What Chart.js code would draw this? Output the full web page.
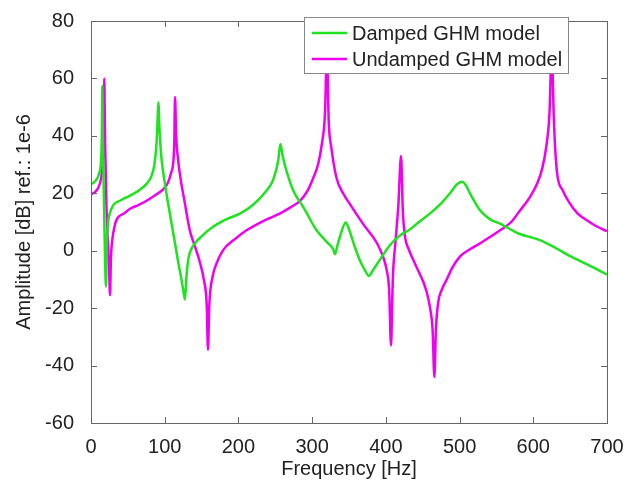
<!DOCTYPE html>
<html>
<head>
<meta charset="utf-8">
<script src="https://cdn.jsdelivr.net/npm/chart.js@4.4.1/dist/chart.umd.min.js"></script>
<style>
  html, body { margin: 0; padding: 0; background: #fff; }
  #wrap { width: 644px; height: 490px; }
</style>
</head>
<body>
<div id="wrap"><canvas id="myChart" width="644" height="490"></canvas></div>
<script>
// values
const dampedFreq = [0, 4, 8, 11, 13.5, 14.8, 15.3, 16, 17.5, 19, 20.3, 21.5, 23, 25, 30, 40, 53, 65, 75, 82, 86, 88.5, 90, 91.3,
  93, 95, 97, 99, 101, 107, 113, 118.5, 122, 125, 127.5, 129.5, 132, 136, 141, 150, 166, 184, 202, 220, 238, 246, 251, 254, 257,
  260, 265, 274.5, 288, 306, 320, 328.6, 331, 334, 339, 345.5, 350, 357, 365, 372, 377, 382, 392, 405.7, 420, 433, 442, 460,
  475, 487, 496, 503, 508, 515, 528, 541, 555, 580, 609, 630, 650, 675, 700];
const dampedAmp = [23.2, 23.8, 25, 27, 31, 42, 57.4, 40, 18, -2, -12.5, 3, 9.5, 12.5, 15.8, 17.5, 19.2, 21, 23.2, 26, 30, 36, 43, 51.7,
  42, 34, 29, 25.5, 22, 12.9, 4, -4.3, -9, -13.5, -17, -9, -3, 0.5, 2.6, 5, 8.4, 11, 12.9, 16, 20.9, 24, 28, 31.5, 37.2,
  33, 28, 20.9, 15.2, 7.1, 3, 0.5, -1.2, 1.5, 6, 9.8, 7.5, 2, -3.5, -7, -8.8, -7, -3.1, 2, 5.5, 7.5, 9.4, 13,
  16.5, 20, 23, 24, 23, 19.5, 14, 11, 9.4, 6, 3.7, 1, -1.9, -5, -8.3];

const undampedFreq = [0, 5, 10, 13.5, 15.5, 17, 18, 19, 20.5, 22.5, 24.5, 25.8, 27, 29, 32, 35, 45, 53, 65, 75.5, 88, 98, 104,
  108.5, 111.7, 113, 114, 115.5, 118, 121, 127, 134, 141, 148, 153, 157, 158.7, 160.5, 165, 171, 179.5, 195, 211, 235, 256,
  270, 283.6, 294, 301.6, 308, 313, 317.5, 320, 322.5, 326, 333, 342, 351, 370, 388, 396, 401, 404.5, 407, 409, 410, 413,
  417, 420.6, 423, 426, 431, 437, 444, 451, 456, 460, 463.5, 465.8, 468, 471, 476, 482.6, 490, 500.7, 514, 528, 555, 570,
  582, 595, 605, 612, 618, 622, 625, 628, 632, 640, 650, 660, 672.6, 685, 700];
const undampedAmp = [19.7, 20.3, 22, 25, 30, 40, 60, 40, 20, 5, -6, -15.5, -3, 4, 8.5, 11, 13, 14.6, 16, 17.4, 19.5, 21.4, 23.5,
  27, 31, 38, 53.5, 40, 32, 26, 17, 7.1, 1.5, -4.3, -10, -19, -34.5, -19, -9, -4, 0.3, 4, 7.1, 10.5, 12.9,
  15, 17.4, 21, 25.4, 30, 36.9, 48.3, 70, 45, 36, 25.4, 20, 16.3, 9, 2.6, -2, -6.6, -14, -33, -14, -6.6, 3,
  16, 33, 14, 4.9, 0.5, -3.1, -7, -11, -15, -20, -28, -44, -27, -18, -13.5, -10, -6, -2, 0.5, 2.6, 7.1, 10,
  14, 18.5, 23.2, 28.5, 36.9, 48, 70, 45, 27.7, 21, 16.3, 13, 10.6, 8.6, 6.8];

const xTicks = [0, 100, 200, 300, 400, 500, 600, 700];
const yTicks = [-60, -40, -20, 0, 20, 40, 60, 80];
const seriesNames = ['Damped GHM model', 'Undamped GHM model'];
const seriesColors = ['#1ee31e', '#f000f0'];

const FONT = 'Liberation Sans, Arial, sans-serif';

const toPoints = (xs, ys) => xs.map((x, i) => ({ x: x, y: ys[i] }));

// MATLAB style frame with inward ticks
const framePlugin = {
  id: 'frame',
  afterDraw(chart) {
    const { ctx, chartArea: a, scales } = chart;
    const len = 6;
    ctx.save();
    ctx.strokeStyle = '#666';
    ctx.lineWidth = 1;
    ctx.strokeRect(a.left + 0.5, a.top + 0.5, a.right - a.left, a.bottom - a.top);
    ctx.beginPath();
    xTicks.forEach(v => {
      const px = Math.round(scales.x.getPixelForValue(v)) + 0.5;
      ctx.moveTo(px, a.bottom); ctx.lineTo(px, a.bottom - len);
      ctx.moveTo(px, a.top); ctx.lineTo(px, a.top + len);
    });
    yTicks.forEach(v => {
      const py = Math.round(scales.y.getPixelForValue(v)) + 0.5;
      ctx.moveTo(a.left, py); ctx.lineTo(a.left + len, py);
      ctx.moveTo(a.right, py); ctx.lineTo(a.right - len, py);
    });
    ctx.stroke();
    ctx.restore();
  }
};

// boxed legend inside the plot, top right
const boxLegendPlugin = {
  id: 'boxLegend',
  afterDraw(chart) {
    const ctx = chart.ctx;
    const x0 = 304, y0 = 17, w = 264, h = 56;
    ctx.save();
    ctx.fillStyle = '#fff';
    ctx.fillRect(x0, y0, w, h);
    ctx.strokeStyle = '#888';
    ctx.lineWidth = 1;
    ctx.strokeRect(x0 + 0.5, y0 + 0.5, w, h);
    ctx.font = '20px ' + FONT;
    ctx.textBaseline = 'middle';
    seriesNames.forEach((name, i) => {
      const cy = y0 + 16 + i * 26;
      ctx.strokeStyle = seriesColors[i];
      ctx.lineWidth = 2.5;
      ctx.beginPath();
      ctx.moveTo(x0 + 8, cy);
      ctx.lineTo(x0 + 43, cy);
      ctx.stroke();
      ctx.fillStyle = '#222';
      ctx.fillText(name, x0 + 48, cy + 1);
    });
    ctx.restore();
  }
};

const ctx = document.getElementById('myChart').getContext('2d');
new Chart(ctx, {
  type: 'line',
  data: {
    datasets: [
      {
        label: seriesNames[0],
        data: toPoints(dampedFreq, dampedAmp),
        borderColor: seriesColors[0],
        borderWidth: 2.5,
        pointRadius: 0,
        cubicInterpolationMode: 'monotone',
        fill: false
      },
      {
        label: seriesNames[1],
        data: toPoints(undampedFreq, undampedAmp),
        borderColor: seriesColors[1],
        borderWidth: 2.5,
        pointRadius: 0,
        cubicInterpolationMode: 'monotone',
        fill: false
      }
    ]
  },
  options: {
    responsive: false,
    animation: false,
    layout: { padding: { top: 14, right: 37, left: 0, bottom: 0 } },
    plugins: {
      legend: { display: false },
      tooltip: { enabled: false }
    },
    scales: {
      x: {
        type: 'linear',
        min: 0,
        max: 700,
        afterBuildTicks: s => { s.ticks = xTicks.map(v => ({ value: v })); },
        afterFit: s => { s.height = 67; },
        grid: { display: false },
        border: { display: false },
        ticks: { color: '#222', font: { family: FONT, size: 20 }, padding: 4, maxRotation: 0 },
        title: { display: true, text: 'Frequency [Hz]', color: '#222', font: { family: FONT, size: 20 }, padding: { top: 0, bottom: 9 } }
      },
      y: {
        min: -60,
        max: 80,
        afterBuildTicks: s => { s.ticks = yTicks.map(v => ({ value: v })); },
        afterFit: s => { s.width = 91; },
        grid: { display: false },
        border: { display: false },
        ticks: { color: '#222', font: { family: FONT, size: 20 }, padding: 9 },
        title: { display: true, text: 'Amplitude [dB] ref.: 1e-6', color: '#222', font: { family: FONT, size: 20 }, padding: { top: 12, bottom: 0 } }
      }
    }
  },
  plugins: [framePlugin, boxLegendPlugin]
});
</script>
</body>
</html>
